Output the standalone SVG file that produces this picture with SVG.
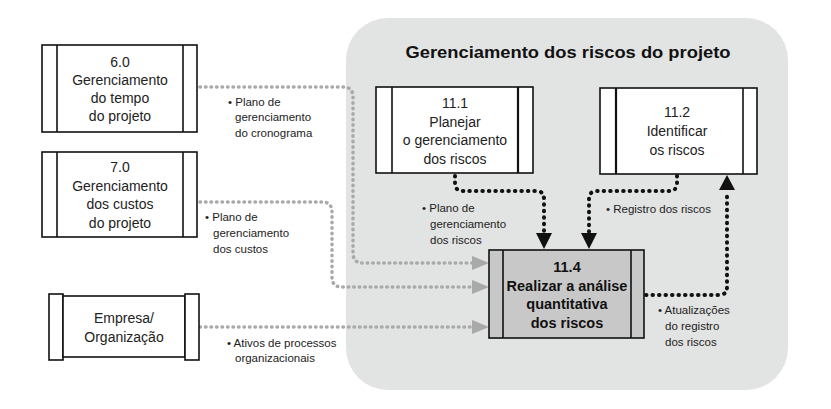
<svg xmlns="http://www.w3.org/2000/svg" width="831" height="409" viewBox="0 0 831 409">
<defs>
<style>
.box{fill:#fff;stroke:#111;stroke-width:1.6}
.gbox{fill:#c8c8c8;stroke:#111;stroke-width:1.6}
.bt{font-family:"Liberation Sans",Arial,sans-serif;font-size:14px;fill:#222;text-anchor:middle}
.bb{font-family:"Liberation Sans",Arial,sans-serif;font-size:14.5px;font-weight:bold;fill:#111;text-anchor:middle}
.lb{font-family:"Liberation Sans",Arial,sans-serif;font-size:11.5px;fill:#222}
.gl{fill:none;stroke:#a9a9a9;stroke-width:3.5;stroke-linecap:round;stroke-dasharray:0.5 5}
.bl{fill:none;stroke:#111;stroke-width:4;stroke-linecap:round;stroke-dasharray:0.5 6}
.ga{fill:#a9a9a9}
.ba{fill:#111}
</style>
</defs>
<rect width="831" height="409" fill="#fff"/>
<rect id="area" x="346" y="18" width="442" height="372" rx="42" ry="42" fill="#e2e3e3"/>
<text x="568" y="58" font-family="Liberation Sans,Arial,sans-serif" font-size="17" font-weight="bold" fill="#111" text-anchor="middle" textLength="325" lengthAdjust="spacingAndGlyphs">Gerenciamento dos riscos do projeto</text>

<g id="connectors">
<path class="gl" d="M200 87 H343 Q353 87 353 97 V253 Q353 263 363 263 H472"/>
<path class="gl" d="M200 202 H322 Q332 202 332 212 V277 Q332 287 342 287 H472"/>
<path class="gl" d="M200 327 H472"/>
<polygon class="ga" points="472,256 489,263 472,270"/>
<polygon class="ga" points="472,280 489,287 472,294"/>
<polygon class="ga" points="472,320 489,327 472,334"/>
<path class="bl" d="M455 176 V183 Q455 191 463 191 H536 Q544 191 544 199 V232"/>
<path class="bl" d="M677 176 V183 Q677 191 669 191 H597 Q589 191 589 199 V232"/>
<path class="bl" d="M646 295 H719 Q727 295 727 287 V192"/>
<polygon class="ba" points="536,233 552,233 544,249"/>
<polygon class="ba" points="581,233 597,233 589,249"/>
<polygon class="ba" points="719,190 735,190 727,175"/>
</g>

<g id="n60">
<rect class="box" x="42" y="45" width="155" height="87"/>
<line x1="57" y1="45" x2="57" y2="132" stroke="#111" stroke-width="1.6"/>
<line x1="183" y1="45" x2="183" y2="132" stroke="#111" stroke-width="1.6"/>
<text class="bt" x="120" y="67">6.0</text>
<text class="bt" x="120" y="85">Gerenciamento</text>
<text class="bt" x="120" y="103">do tempo</text>
<text class="bt" x="120" y="121">do projeto</text>
</g>

<g id="n70">
<rect class="box" x="42" y="152" width="155" height="85"/>
<line x1="57" y1="152" x2="57" y2="237" stroke="#111" stroke-width="1.6"/>
<line x1="183" y1="152" x2="183" y2="237" stroke="#111" stroke-width="1.6"/>
<text class="bt" x="120" y="172">7.0</text>
<text class="bt" x="120" y="191">Gerenciamento</text>
<text class="bt" x="120" y="209">dos custos</text>
<text class="bt" x="120" y="228">do projeto</text>
</g>

<g id="empresa">
<rect class="box" x="49" y="294" width="14" height="66"/>
<rect class="box" x="63" y="296" width="122" height="61"/>
<rect class="box" x="185" y="294" width="14" height="66"/>
<text class="bt" x="124" y="323">Empresa/</text>
<text class="bt" x="124" y="342">Organização</text>
</g>

<g id="n111">
<rect class="box" x="376" y="87" width="157" height="86"/>
<line x1="392" y1="87" x2="392" y2="173" stroke="#111" stroke-width="1.6"/>
<line x1="518" y1="87" x2="518" y2="173" stroke="#111" stroke-width="2.2"/>
<text class="bt" x="455" y="108">11.1</text>
<text class="bt" x="455" y="127">Planejar</text>
<text class="bt" x="455" y="145">o gerenciamento</text>
<text class="bt" x="455" y="164">dos riscos</text>
</g>

<g id="n112">
<rect class="box" x="600" y="88" width="157" height="86"/>
<line x1="616" y1="88" x2="616" y2="174" stroke="#111" stroke-width="2.2"/>
<line x1="743" y1="88" x2="743" y2="174" stroke="#111" stroke-width="1.6"/>
<text class="bt" x="677" y="117">11.2</text>
<text class="bt" x="677" y="136">Identificar</text>
<text class="bt" x="677" y="155">os riscos</text>
</g>

<g id="n114">
<rect class="gbox" x="489" y="250" width="155" height="88"/>
<line x1="503" y1="250" x2="503" y2="338" stroke="#111" stroke-width="1.6"/>
<line x1="631" y1="250" x2="631" y2="338" stroke="#111" stroke-width="1.6"/>
<text class="bb" x="567" y="272">11.4</text>
<text class="bb" x="567" y="291">Realizar a análise</text>
<text class="bb" x="567" y="309">quantitativa</text>
<text class="bb" x="567" y="328">dos riscos</text>
</g>

<g id="labels">
<text class="lb" x="228" y="106">• Plano de</text>
<text class="lb" x="235" y="121">gerenciamento</text>
<text class="lb" x="235" y="137">do cronograma</text>
<text class="lb" x="205" y="221">• Plano de</text>
<text class="lb" x="213" y="237">gerenciamento</text>
<text class="lb" x="213" y="253">dos custos</text>
<text class="lb" x="227" y="347">• Ativos de processos</text>
<text class="lb" x="235" y="362">organizacionais</text>
<text class="lb" x="422" y="212">• Plano de</text>
<text class="lb" x="430" y="228">gerenciamento</text>
<text class="lb" x="430" y="244">dos riscos</text>
<text class="lb" x="606" y="213">• Registro dos riscos</text>
<text class="lb" x="658" y="314">• Atualizações</text>
<text class="lb" x="665" y="330">do registro</text>
<text class="lb" x="665" y="346">dos riscos</text>
</g>
</svg>
